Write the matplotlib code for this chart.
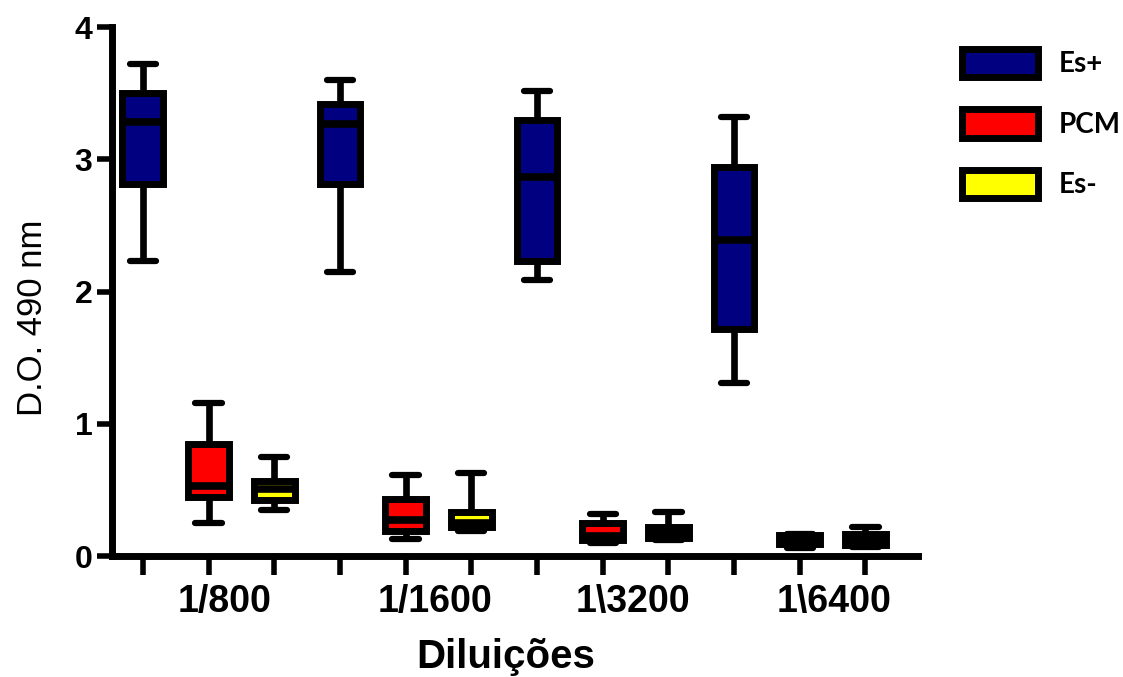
import matplotlib
matplotlib.use("Agg")
import matplotlib.pyplot as plt
from matplotlib.patches import Patch

# box statistics per group and dilution
dilutions = ["1/800", "1/1600", "1\\3200", "1\\6400"]
groups = ["Es+", "PCM", "Es-"]
colors = ["#000080", "#ff0000", "#ffff00"]

es_pos_whislo = [2.23, 2.15, 2.09, 1.31]
es_pos_q1 = [2.81, 2.81, 2.23, 1.72]
es_pos_med = [3.28, 3.27, 2.87, 2.39]
es_pos_q3 = [3.50, 3.42, 3.30, 2.94]
es_pos_whishi = [3.72, 3.60, 3.52, 3.32]

pcm_whislo = [0.25, 0.13, 0.10, 0.06]
pcm_q1 = [0.45, 0.19, 0.12, 0.09]
pcm_med = [0.53, 0.27, 0.15, 0.12]
pcm_q3 = [0.85, 0.43, 0.25, 0.16]
pcm_whishi = [1.16, 0.61, 0.32, 0.17]

es_neg_whislo = [0.35, 0.19, 0.12, 0.07]
es_neg_q1 = [0.42, 0.22, 0.14, 0.08]
es_neg_med = [0.51, 0.25, 0.17, 0.12]
es_neg_q3 = [0.57, 0.33, 0.22, 0.17]
es_neg_whishi = [0.75, 0.63, 0.33, 0.22]

series = [
    (es_pos_whislo, es_pos_q1, es_pos_med, es_pos_q3, es_pos_whishi),
    (pcm_whislo, pcm_q1, pcm_med, pcm_q3, pcm_whishi),
    (es_neg_whislo, es_neg_q1, es_neg_med, es_neg_q3, es_neg_whishi),
]

label_pos = [1.25, 4.44, 7.46, 10.52]

fig = plt.figure(figsize=(11.23, 6.77), dpi=100)
ax = fig.add_axes([0.0997, 0.1787, 0.7178, 0.7813])

for g, (lo, q1, med, q3, hi) in enumerate(series):
    stats = []
    for i in range(len(dilutions)):
        stats.append(dict(whislo=lo[i], q1=q1[i], med=med[i], q3=q3[i], whishi=hi[i]))
    pos = [3 * i + g for i in range(len(dilutions))]
    ax.bxp(stats, positions=pos, widths=0.62, capwidths=0.40, showfliers=False,
           patch_artist=True, manage_ticks=False,
           boxprops=dict(facecolor=colors[g], edgecolor="black", linewidth=5, joinstyle="miter"),
           medianprops=dict(color="black", linewidth=5.5, solid_capstyle="butt"),
           whiskerprops=dict(color="black", linewidth=4.8, solid_capstyle="butt"),
           capprops=dict(color="black", linewidth=4.5, solid_capstyle="round"))

ax.set_xlim(-0.47, 11.8)
ax.set_ylim(0, 4)
ax.spines["top"].set_visible(False)
ax.spines["right"].set_visible(False)
ax.spines["left"].set_linewidth(5)
ax.spines["bottom"].set_linewidth(5)

ax.set_yticks([0, 1, 2, 3, 4])
ax.tick_params(axis="y", length=11, width=4, pad=3, labelsize=23)
for t in ax.get_yticklabels():
    t.set_fontweight("bold")
    t.set_family(["Liberation Sans", "DejaVu Sans"])

ax.set_xticks(range(12))
ax.set_xticklabels([])
ax.tick_params(axis="x", which="major", length=14, width=4)
ax.set_xticks(label_pos, minor=True)
ax.set_xticklabels(dilutions, minor=True, fontsize=27, fontweight="bold",
                   family=["Liberation Sans", "DejaVu Sans"])
ax.tick_params(axis="x", which="minor", length=0, pad=20)

ax.set_xlabel("Diluições", fontsize=29, fontweight="bold",
              family=["Liberation Sans", "DejaVu Sans"])
ax.xaxis.set_label_coords(0.488, -0.155)
ax.set_ylabel("D.O. 490 nm", fontsize=25, family=["Liberation Sans", "DejaVu Sans"])
ax.yaxis.set_label_coords(-0.078, 0.45)

handles = [Patch(facecolor=c, edgecolor="black", linewidth=5, joinstyle="miter") for c in colors]
fig.legend(handles, groups, loc="upper left", bbox_to_anchor=(0.834, 0.965), frameon=False,
           handlelength=2.75, handleheight=1.2, labelspacing=1.15, handletextpad=0.75,
           prop=dict(family=["Lato", "DejaVu Sans"], weight="bold", size=20))

fig.savefig("out.png", dpi=100)
